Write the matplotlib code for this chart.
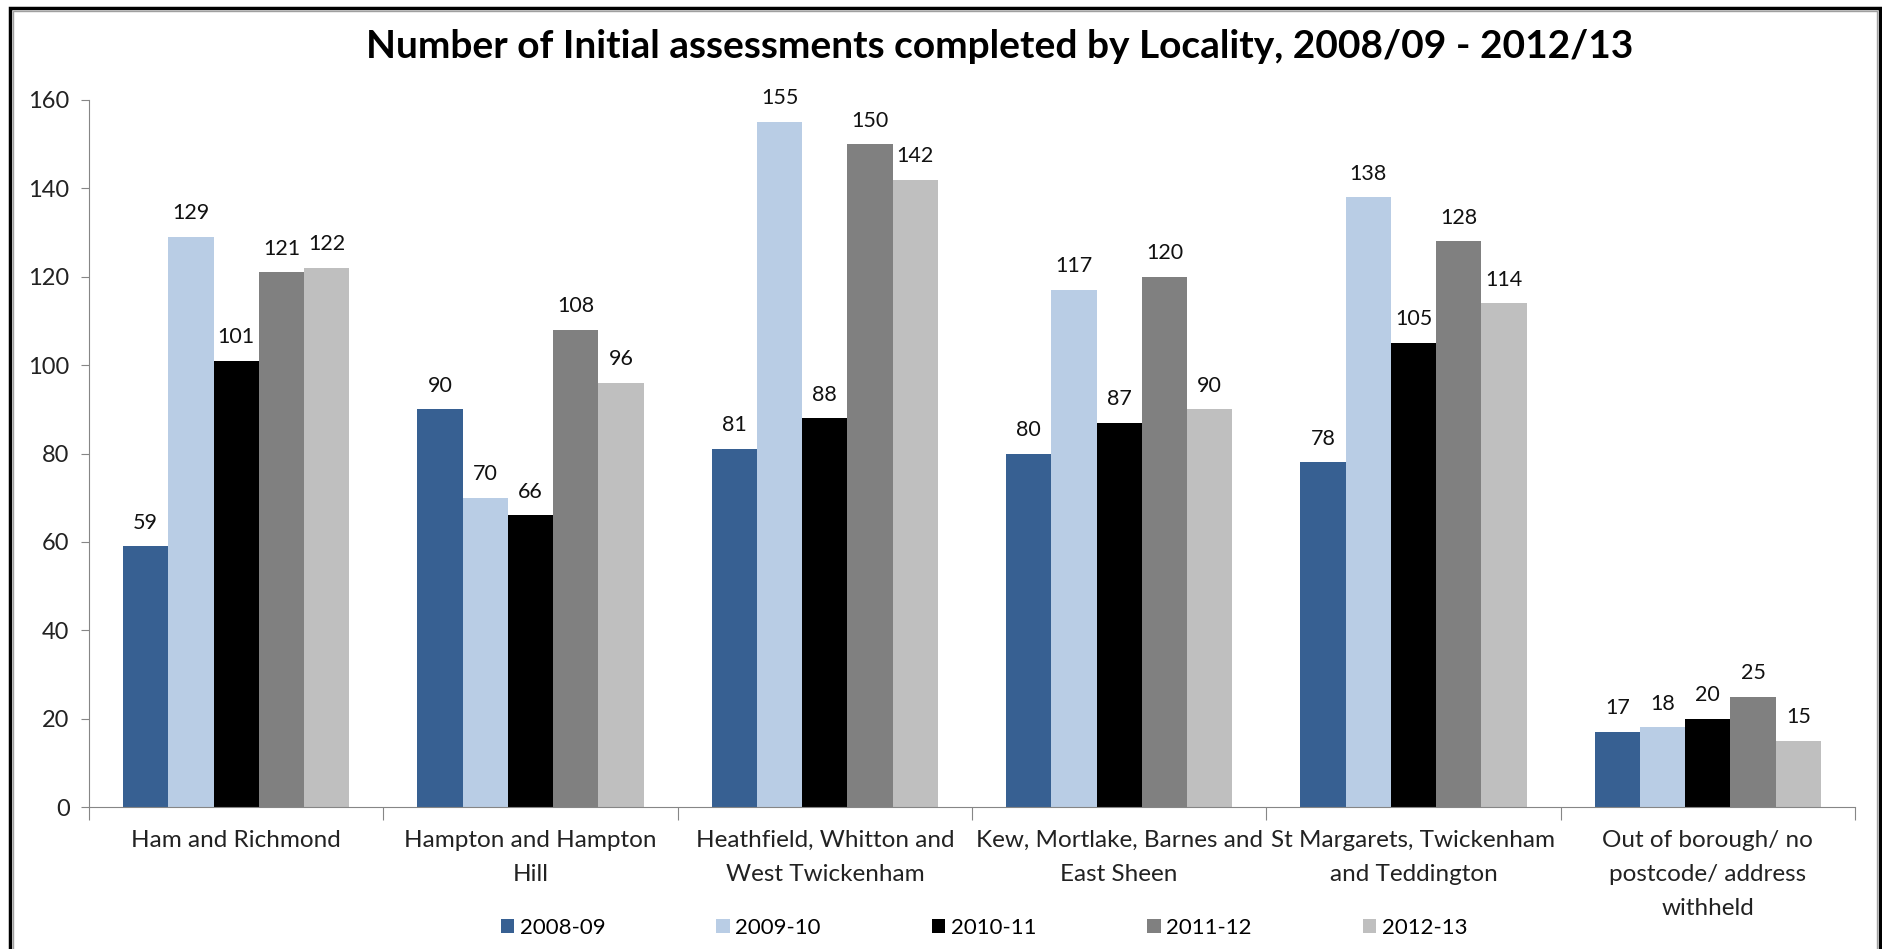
import matplotlib
matplotlib.use("Agg")
import matplotlib.pyplot as plt
import numpy as np
from matplotlib.patches import Rectangle

# chart data
localities = ["Ham and Richmond",
              "Hampton and Hampton\nHill",
              "Heathfield, Whitton and\nWest Twickenham",
              "Kew, Mortlake, Barnes and\nEast Sheen",
              "St Margarets, Twickenham\nand Teddington",
              "Out of borough/ no\npostcode/ address\nwithheld"]
years = ["2008-09", "2009-10", "2010-11", "2011-12", "2012-13"]
v_2008 = [59, 90, 81, 80, 78, 17]
v_2009 = [129, 70, 155, 117, 138, 18]
v_2010 = [101, 66, 88, 87, 105, 20]
v_2011 = [121, 108, 150, 120, 128, 25]
v_2012 = [122, 96, 142, 90, 114, 15]
series = [v_2008, v_2009, v_2010, v_2011, v_2012]
colors = ["#376092", "#B9CDE5", "#000000", "#808080", "#BFBFBF"]

plt.rcParams['font.family'] = ['Lato', 'DejaVu Sans']

W, H = 1883, 949
fig = plt.figure(figsize=(W / 100, H / 100), dpi=100)
ax = fig.add_axes([89 / W, 1 - 807 / H, (1855 - 89) / W, (807 - 100) / H])

x = np.arange(len(localities))
bw = 1 / 6.5
for i, (vals, c) in enumerate(zip(series, colors)):
    pos = x + (i - 2) * bw
    ax.bar(pos, vals, width=bw, color=c, label=years[i], zorder=2)
    for p, v in zip(pos, vals):
        ax.annotate(str(v), (p, v), xytext=(0, 17), textcoords="offset points",
                    ha="center", va="center", fontsize=15.5, color="#111111")

ax.set_xlim(-0.5, len(localities) - 0.5)
ax.set_ylim(0, 160)
ax.set_yticks(range(0, 161, 20))
ax.tick_params(axis="y", labelsize=17, length=6, color="#868686", labelcolor="#222222", pad=8)

# category labels centred, boundary ticks pointing down
ax.set_xticks(np.arange(-0.5, len(localities), 1))
ax.set_xticklabels([])
ax.tick_params(axis="x", length=9, color="#868686")
for xi, lab in zip(x, localities):
    ax.text(xi, -0.033, lab, transform=ax.get_xaxis_transform(), ha="center", va="top",
            fontsize=17.5, color="#222222", linespacing=1.75)

for s in ["top", "right"]:
    ax.spines[s].set_visible(False)
for s in ["left", "bottom"]:
    ax.spines[s].set_color("#868686")

fig.text(1000 / W, 1 - 46 / H,
         "Number of Initial assessments completed by Locality, 2008/09 - 2012/13",
         ha="center", va="center", fontsize=28, fontweight="bold")

fig.legend(loc="center", bbox_to_anchor=(984 / W, 1 - 928 / H), ncol=5, frameon=False,
           fontsize=16, handlelength=0.6, handleheight=0.6, handletextpad=0.25,
           columnspacing=5.0)

# double border around the chart
fig.patches.append(Rectangle((10 / W, -0.05), (1880 - 10) / W, 1.05 - 8 / H,
                             transform=fig.transFigure, fill=False, lw=2.5, ec="black"))
fig.patches.append(Rectangle((13 / W, -0.05), (1877 - 13) / W, 1.05 - 11 / H,
                             transform=fig.transFigure, fill=False, lw=1, ec="#A0A0A0"))

fig.savefig("out.png", dpi=100)
